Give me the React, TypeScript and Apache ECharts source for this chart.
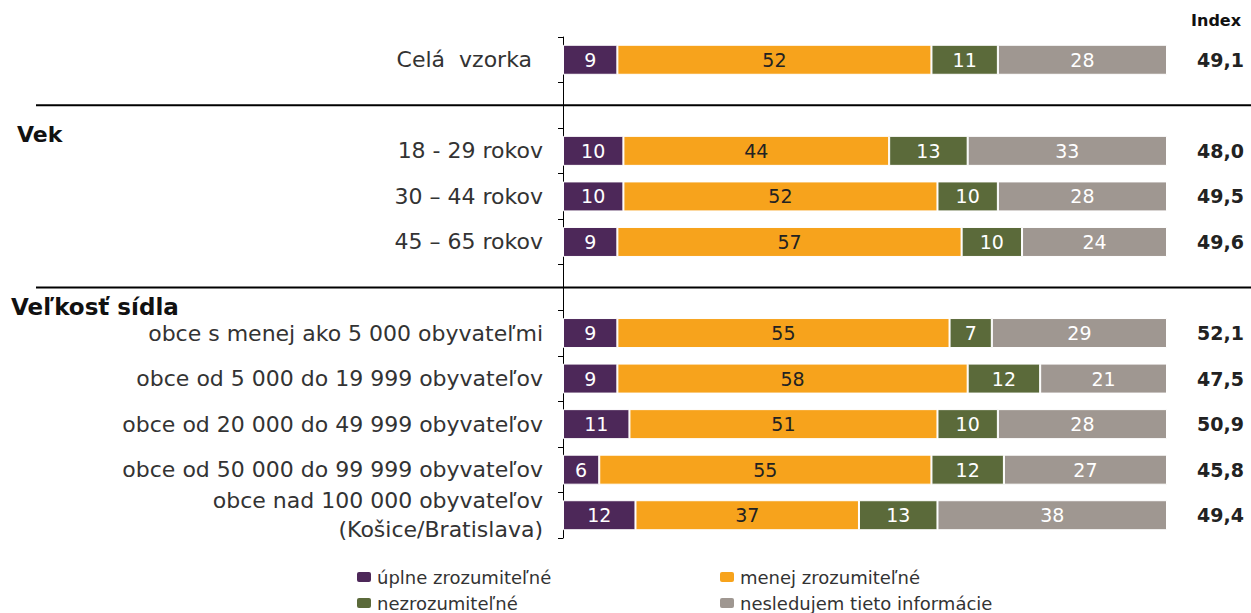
import React, { useEffect, useRef } from "react";
import * as echarts from "echarts";

const categories = [
  "Celá  vzorka",
  "",
  "18 - 29 rokov",
  "30 – 44 rokov",
  "45 – 65 rokov",
  "",
  "obce s menej ako 5 000 obyvateľmi",
  "obce od 5 000 do 19 999 obyvateľov",
  "obce od 20 000 do 49 999 obyvateľov",
  "obce od 50 000 do 99 999 obyvateľov",
  "obce nad 100 000 obyvateľov\n(Košice/Bratislava)",
];
const seriesNames = [
  "úplne zrozumiteľné",
  "menej zrozumiteľné",
  "nezrozumiteľné",
  "nesledujem tieto informácie",
];
const uplne = [9, null, 10, 10, 9, null, 9, 9, 11, 6, 12];
const menej = [52, null, 44, 52, 57, null, 55, 58, 51, 55, 37];
const nezroz = [11, null, 13, 10, 10, null, 7, 12, 10, 12, 13];
const nesled = [28, null, 33, 28, 24, null, 29, 21, 28, 27, 38];
const indexLabels = ["49,1", "", "48,0", "49,5", "49,6", "", "52,1", "47,5", "50,9", "45,8", "49,4"];
const groupHeaders = ["Vek", "Veľkosť sídla"];
const separatorSlots = [1, 5];

const colors = ["#4d2859", "#f7a31c", "#5b6a3a", "#9f9791"];
const labelColors = ["#ffffff", "#222222", "#ffffff", "#ffffff"];
const FONT = "DejaVu Sans";

// legend item placement: [left, top] for each series
const legendSpots = [
  [355, 568],
  [718, 568],
  [355, 594],
  [718, 594],
];

export default function App() {
  const ref = useRef<HTMLDivElement>(null);
  useEffect(() => {
    if (!ref.current) return;
    const chart = echarts.init(ref.current, null, { renderer: "svg" });
    const values = [uplne, menej, nezroz, nesled];
    const legendText = { fontSize: 18, color: "#333", fontFamily: FONT };
    chart.setOption({
      animation: false,
      textStyle: { fontFamily: FONT },
      grid: { left: 563, right: 84, top: 37, bottom: 75 },
      xAxis: {
        type: "value",
        min: 0,
        max: 100,
        show: false,
      },
      yAxis: [
        {
          type: "category",
          inverse: true,
          data: categories,
          axisLine: { show: true, lineStyle: { color: "#000", width: 1 } },
          axisTick: { show: true, length: 5, lineStyle: { color: "#000" } },
          axisLabel: {
            margin: 20,
            fontSize: 22,
            color: "#333",
            fontFamily: FONT,
            lineHeight: 29,
            align: "right",
            formatter: (v: string, i: number) => (i === 0 ? `{pad|${v}}` : v),
            rich: {
              pad: { padding: [0, 11, 0, 0], fontSize: 22, color: "#333", fontFamily: FONT },
            },
          },
        },
        {
          type: "category",
          inverse: true,
          position: "right",
          data: indexLabels,
          axisLine: { show: false },
          axisTick: { show: false },
          axisLabel: {
            margin: 77,
            align: "right",
            fontSize: 19,
            fontWeight: "bold",
            color: "#222",
            fontFamily: FONT,
          },
        },
      ],
      legend: seriesNames.map((name, i) => ({
        orient: "horizontal",
        left: legendSpots[i][0],
        top: legendSpots[i][1],
        padding: 0,
        itemWidth: 16,
        itemHeight: 12,
        data: [name],
        textStyle: legendText,
      })),
      series: seriesNames.map((name, i) => ({
        name,
        type: "bar",
        stack: "total",
        barWidth: 30,
        data: values[i],
        itemStyle: { color: colors[i], borderColor: "#ffffff", borderWidth: 1 },
        label: {
          show: true,
          position: "inside",
          color: labelColors[i],
          fontSize: 19,
          fontFamily: FONT,
          formatter: (p: any) => (p.value == null ? "" : String(p.value)),
        },
      })),
    });

    const sepY = separatorSlots.map((s) => chart.convertToPixel({ yAxisIndex: 0 }, s) as number);
    chart.setOption({
      graphic: [
        ...sepY.map((y) => ({
          type: "line",
          shape: { x1: 36, y1: y, x2: 1251, y2: y },
          style: { stroke: "#000", lineWidth: 2 },
        })),
        {
          type: "text",
          left: 17,
          top: 123,
          style: { text: groupHeaders[0], font: `bold 22px '${FONT}'`, fill: "#111" },
        },
        {
          type: "text",
          left: 11,
          top: 295,
          style: { text: groupHeaders[1], font: `bold 23px '${FONT}'`, fill: "#111" },
        },
        {
          type: "text",
          right: 10,
          top: 12,
          style: { text: "Index", font: `bold 16px '${FONT}'`, fill: "#111" },
        },
      ],
    });
    return () => chart.dispose();
  }, []);
  return (
    <div
      ref={ref}
      style={{ position: "absolute", left: 0, top: 0, width: 1251, height: 613 }}
    />
  );
}
